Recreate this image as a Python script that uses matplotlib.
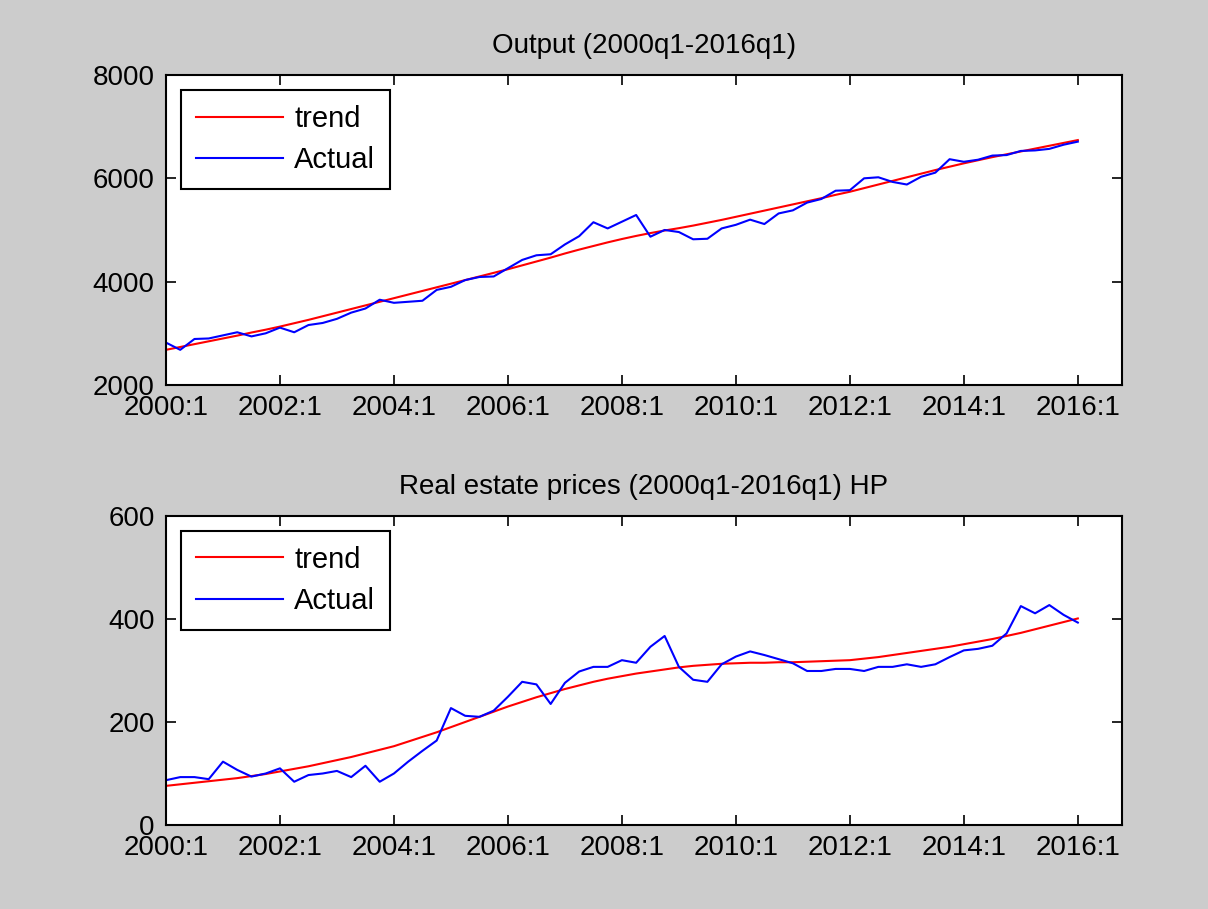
import matplotlib.pyplot as plt
import numpy as np

plt.rcParams['font.family'] = ['Liberation Sans', 'DejaVu Sans']

# quarters 2000q1 .. 2016q1
quarters = np.arange(65)
tick_pos = np.arange(0, 65, 8)
tick_labels = ['2000:1', '2002:1', '2004:1', '2006:1', '2008:1',
               '2010:1', '2012:1', '2014:1', '2016:1']

output_actual = [2820, 2680, 2890, 2900, 2960, 3020, 2940, 3000, 3110, 3020,
                 3160, 3200, 3280, 3400, 3480, 3650, 3590, 3610, 3630, 3840,
                 3900, 4030, 4090, 4100, 4260, 4420, 4510, 4530, 4720, 4880,
                 5150, 5030, 5160, 5290, 4870, 5000, 4960, 4820, 4830, 5030,
                 5100, 5200, 5115, 5320, 5380, 5530, 5600, 5760, 5770, 6000,
                 6020, 5930, 5880, 6030, 6110, 6370, 6320, 6360, 6440, 6450,
                 6530, 6540, 6570, 6650, 6710]
output_trend = [2680, 2735, 2790, 2845, 2900, 2955, 3015, 3070, 3130, 3195,
                3260, 3330, 3400, 3470, 3540, 3610, 3680, 3750, 3820, 3890,
                3960, 4030, 4100, 4170, 4240, 4315, 4390, 4465, 4545, 4620,
                4690, 4760, 4825, 4885, 4940, 4990, 5035, 5085, 5140, 5195,
                5255, 5315, 5375, 5435, 5495, 5555, 5615, 5680, 5740, 5810,
                5880, 5950, 6020, 6090, 6160, 6225, 6290, 6350, 6410, 6465,
                6520, 6575, 6630, 6685, 6740]

re_actual = [87, 93, 93, 89, 123, 107, 94, 100, 110, 84,
             97, 100, 105, 93, 115, 84, 100, 123, 144, 164,
             227, 212, 210, 222, 249, 278, 273, 235, 276, 298,
             307, 307, 320, 315, 346, 367, 307, 282, 278, 312,
             327, 337, 330, 322, 314, 299, 299, 303, 303, 299,
             307, 307, 312, 307, 312, 326, 339, 342, 348, 372,
             425, 411, 427, 408, 393]
re_trend = [76, 79, 82, 85, 88, 91, 95, 99, 104, 109,
            114, 120, 126, 132, 139, 146, 153, 162, 171, 180,
            190, 200, 210, 220, 230, 239, 248, 256, 264, 271,
            278, 284, 289, 294, 298, 302, 306, 309, 311, 313,
            314, 315, 315, 316, 316, 317, 318, 319, 320, 323,
            326, 330, 334, 338, 342, 346, 351, 356, 361, 367,
            373, 380, 387, 394, 401]


def panel(ax, trend, actual, ylim, yticks, title):
    ax.plot(quarters, trend, color='#ff0000', lw=1.5, label='trend')
    ax.plot(quarters, actual, color='#0000ff', lw=1.5, label='Actual')
    ax.set_xlim(0, 67.1)
    ax.set_ylim(*ylim)
    ax.set_xticks(tick_pos)
    ax.set_xticklabels(tick_labels)
    ax.set_yticks(yticks)
    ax.tick_params(direction='in', length=7, width=1.2, top=True, right=True,
                   labelsize=20, colors='black')
    ax.tick_params(axis='x', pad=7)
    ax.tick_params(axis='y', pad=8)
    for s in ax.spines.values():
        s.set_linewidth(1.5)
    ax.set_title(title, fontsize=20, pad=16)
    leg = ax.legend(loc='upper left', fontsize=21, fancybox=False,
                    framealpha=1, edgecolor='black', handlelength=3.0,
                    handletextpad=0.38, borderaxespad=0.52, labelspacing=0.46,
                    borderpad=0.5)
    leg.get_frame().set_linewidth(1.5)


fig = plt.figure(figsize=(12.08, 9.09), dpi=100, facecolor='#cccccc')
ax1 = fig.add_axes([0.1374, 0.5765, 0.7914, 0.341])
ax2 = fig.add_axes([0.1374, 0.0924, 0.7914, 0.340])

panel(ax1, output_trend, output_actual, (2000, 8000), [2000, 4000, 6000, 8000],
      'Output (2000q1-2016q1)')
panel(ax2, re_trend, re_actual, (0, 600), [0, 200, 400, 600],
      'Real estate prices (2000q1-2016q1) HP')

fig.savefig('out.png', dpi=100, facecolor=fig.get_facecolor())
